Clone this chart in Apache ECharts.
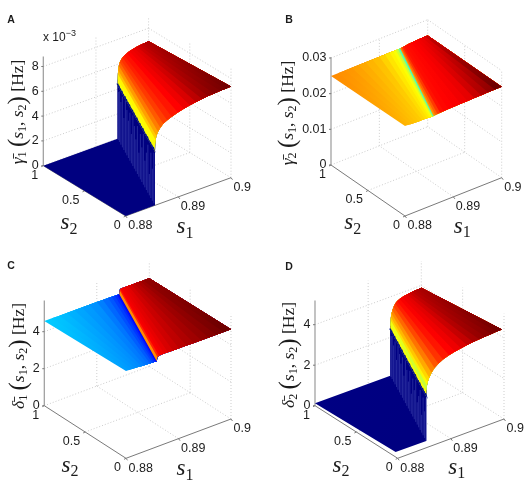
<!DOCTYPE html>
<html><head><meta charset="utf-8">
<style>html,body{margin:0;background:#fff}#c{width:529px;height:480px;filter:blur(0.4px)}</style>
<script src="https://cdn.jsdelivr.net/npm/echarts@6/dist/echarts.min.js"></script>
</head><body><div id="c"></div>
<script>
// axis ticks
const s1Ticks = [0.88, 0.89, 0.9];
const s1TickLabels = ['0.88', '0.89', '0.9'];
const s2Ticks = [0, 0.5, 1];
const s2TickLabels = ['0', '0.5', '1'];
const zTicksA = [0, 2, 4, 6, 8];
const zTicksB = [0, 0.01, 0.02, 0.03];
const zTicksC = [0, 2, 4];
const zTicksD = [0, 2, 4];

// Each surface is a list of strips. Strip boundary i runs from s2 low end to s2 = 1.
// Panel A
const s1AtLowA = [0.88,0.88556,0.88556,0.88562,0.8857,0.88584,0.88614,0.88658,0.88714,0.88788,0.88874,0.8899,0.89104,0.8922,0.89336,0.89452,0.89566,0.89682,0.89798,0.89898,0.9];
const s1AtOneA = [0.88,0.8941,0.8941,0.89412,0.89416,0.89422,0.89434,0.89452,0.89474,0.89504,0.8954,0.89588,0.89634,0.89682,0.89728,0.89776,0.89824,0.8987,0.89918,0.89958,0.9];
const zAtLowA = [0,0,4.3,4.9,5.25,5.55,5.85,6.1,6.33,6.5,6.65,6.82,6.95,7.05,7.13,7.2,7.25,7.29,7.32,7.34,7.36];
const zAtOneA = [0,0,4.3,4.8,5.2,5.5,5.85,6.1,6.25,6.4,6.5,6.62,6.7,6.75,6.8,6.84,6.87,6.9,6.92,6.94,6.95];
// Panel D
const s1AtLowD = [0.88,0.88576,0.88576,0.88582,0.8859,0.88604,0.88632,0.88676,0.88732,0.88804,0.8889,0.89004,0.89118,0.89232,0.89344,0.89458,0.89572,0.89686,0.898,0.899,0.9];
const s1AtOneD = [0.88,0.89416,0.89416,0.89418,0.89422,0.89428,0.8944,0.89456,0.8948,0.8951,0.89544,0.89592,0.89638,0.89684,0.89732,0.89778,0.89824,0.89872,0.89918,0.8996,0.9];
const zAtLowD = [0.25,0.23,2.42,2.7,2.95,3.12,3.3,3.5,3.68,3.83,3.95,4.05,4.13,4.18,4.22,4.26,4.29,4.31,4.33,4.35,4.36];
const zAtOneD = [0.115,0.11,2.35,2.6,2.85,3.0,3.15,3.3,3.45,3.58,3.66,3.72,3.76,3.79,3.81,3.83,3.85,3.86,3.87,3.875,3.88];
// Panels B and C share the strip layout
const s1AtLowFlat = [0.88,0.88059,0.88117,0.88176,0.88234,0.88293,0.88352,0.8841,0.88457,0.88498,0.88527,0.88551,0.88568,0.8858,0.88586,0.886,0.88628,0.88671,0.88727,0.88798,0.88897,0.8901,0.89152,0.89293,0.89434,0.89576,0.89717,0.89859,0.9];
const s1AtOneFlat = [0.88,0.88143,0.88286,0.88428,0.88571,0.88714,0.88857,0.89,0.89114,0.89214,0.89285,0.89342,0.89385,0.89414,0.89428,0.89434,0.89445,0.89462,0.89485,0.89514,0.89554,0.896,0.89657,0.89714,0.89771,0.89828,0.89886,0.89943,0.9];
const zAtLowB = [0.0252,0.02516,0.02512,0.02508,0.02505,0.02502,0.02499,0.02496,0.02493,0.02491,0.02489,0.02488,0.02487,0.02486,0.02486,0.0249,0.02495,0.025,0.02505,0.0251,0.02515,0.0252,0.02525,0.0253,0.02535,0.0254,0.02545,0.02548,0.0255];
const zAtOneB = [0.02495,0.02496,0.02496,0.02497,0.02497,0.02498,0.02498,0.02499,0.02499,0.02499,0.025,0.025,0.025,0.025,0.025,0.02503,0.02506,0.0251,0.02514,0.02518,0.02524,0.0253,0.02535,0.0254,0.02545,0.0255,0.02553,0.02556,0.0256];
const colorAtLowB = [0.7,0.695,0.69,0.685,0.68,0.675,0.665,0.655,0.645,0.635,0.62,0.58,0.5,0.38,0.7,0.74,0.78,0.82,0.86,0.87,0.875,0.88,0.89,0.9,0.91,0.92,0.93,0.945,0.945];
const colorAtOneB = [0.74,0.735,0.73,0.72,0.71,0.7,0.69,0.67,0.65,0.635,0.62,0.58,0.5,0.38,0.7,0.74,0.78,0.82,0.85,0.86,0.865,0.87,0.875,0.88,0.885,0.89,0.9,0.91,0.92];
const zAtLowC = [4.72,4.71,4.7,4.69,4.68,4.67,4.66,4.65,4.645,4.64,4.635,4.63,4.625,4.62,4.62,4.82,4.88,4.89,4.89,4.885,4.88,4.875,4.87,4.865,4.86,4.86,4.855,4.85,4.85];
const zAtOneC = [4.58,4.57,4.565,4.56,4.555,4.55,4.545,4.54,4.535,4.53,4.525,4.52,4.515,4.51,4.51,4.72,4.78,4.78,4.78,4.78,4.78,4.78,4.775,4.775,4.775,4.77,4.77,4.77,4.77];
const colorAtLowC = [0.28,0.275,0.27,0.265,0.26,0.25,0.24,0.23,0.21,0.19,0.17,0.15,0.13,0.1,0.74,0.84,0.88,0.89,0.9,0.905,0.91,0.915,0.92,0.925,0.93,0.935,0.94,0.945,0.945];
const colorAtOneC = [0.325,0.32,0.31,0.3,0.29,0.28,0.27,0.25,0.23,0.21,0.19,0.17,0.14,0.11,0.74,0.84,0.88,0.885,0.89,0.895,0.9,0.905,0.91,0.915,0.92,0.925,0.93,0.93,0.93];
// pale streaks and teeth seen on the steep walls (position along s2, top height as a share of wall)
const streakS2 = [0.03,0.07,0.11,0.15,0.19,0.23,0.27,0.31,0.35,0.39,0.43,0.47,0.51,0.55,0.59,0.63,0.67,0.71,0.75,0.79,0.83,0.87,0.91,0.95,0.98];
const streakTop = [0.95,0.6,0.85,0.4,0.9,0.7,0.5,0.95,0.65,0.85,0.45,0.9,0.6,0.8,0.95,0.55,0.9,0.7,0.85,0.98,0.6,0.95,0.8,0.95,0.9];

const panels = [
 {id:'A', letter:[11,20], L:[43.3,165.7], F:[125.7,216], R:[231,177.7], zs:12.4, zTop:8.8, zTicks:zTicksA, zLabels:zTicksA.map(String),
  s1Low:s1AtLowA, s1One:s1AtOneA, zLow:zAtLowA, zOne:zAtOneA, climLow:[0,7.79], climOne:[0,7.55], s2Low:0, wall:1, wallTopColor:0.62,
  s2Title:[69,223], s1Title:[185,227], yTitle:[18,112], sym:'γ̄', symSub:'1', multiplier:[43,38]},
 {id:'B', letter:[289,20], L:[331,165], F:[405,216], R:[501.7,177.7], zs:3567, zTop:0.0302, zTicks:zTicksB, zLabels:['0','0.01','0.02','0.03'],
  s1Low:s1AtLowFlat, s1One:s1AtOneFlat, zLow:zAtLowB, zOne:zAtOneB, cLow:colorAtLowB, cOne:colorAtOneB, s2Low:0,
  s2Title:[352.7,223], s1Title:[462.3,226.7], yTitle:[288,113], sym:'γ̄', symSub:'2'},
 {id:'C', letter:[11,266], L:[44.3,405.7], F:[126,458.3], R:[231,419], zs:18.5, zTop:5.68, zTicks:zTicksC, zLabels:['0','2','4'],
  s1Low:s1AtLowFlat, s1One:s1AtOneFlat, zLow:zAtLowC, zOne:zAtOneC, cLow:colorAtLowC, cOne:colorAtOneC, s2Low:0,
  s2Title:[70,465.7], s1Title:[185,469], yTitle:[19,356], sym:'δ̄', symSub:'1'},
 {id:'D', letter:[289,266.7], L:[315,405.7], F:[397.7,458.3], R:[504,419], zs:20.25, zTop:5.2, zTicks:zTicksD, zLabels:['0','2','4'],
  s1Low:s1AtLowD, s1One:s1AtOneD, zLow:zAtLowD, zOne:zAtOneD, climLow:[0.25,4.6], climOne:[0.1,4.2], s2Low:0.025, wall:1, wallTopColor:0.62,
  s2Title:[341,465.7], s1Title:[456.7,467.7], yTitle:[289,355], sym:'δ̄', symSub:'2'}
];

const clamp01 = v => Math.max(0, Math.min(1, v));
function jet(v){
  v = clamp01(v);
  const fade = v > 0.9 ? Math.max(0.3, 1 - (v - 0.9) * 9) : 1;
  const ch = c => Math.round(255 * clamp01(1.5 - Math.abs(4 * v - c)));
  return 'rgb(' + Math.round(ch(3) * fade) + ',' + ch(2) + ',' + ch(1) + ')';
}
panels.forEach(p => {
  p.back = [p.L[0] + p.R[0] - p.F[0], p.L[1] + p.R[1] - p.F[1]];
  p.top = p.back[1] - p.zTop * p.zs - 2;
  p.project = (api, s1, s2, z) => {
    const f = (s1 - 0.88) / 0.02;
    const x = p.F[0] + f * (p.R[0] - p.F[0]) + s2 * (p.L[0] - p.F[0]);
    const y = p.F[1] + f * (p.R[1] - p.F[1]) + s2 * (p.L[1] - p.F[1]) - z * p.zs;
    return api.coord([(x - p.L[0]) / (p.R[0] - p.L[0]), (p.F[1] - y) / (p.F[1] - p.top)]);
  };
});

const SANS = '"Liberation Sans", Arial, sans-serif';
const SERIF = '"Liberation Serif", "DejaVu Serif", serif';
const GRID = '#cdcdcd', AXIS = '#7a7a7a', INK = '#1c1c1c';

const line = (a, b, stroke, width, dash) => ({type:'line', shape:{x1:a[0], y1:a[1], x2:b[0], y2:b[1]},
  style:{stroke, lineWidth:width, lineDash:dash || null}, silent:true});
const label = (text, x, y, align, font) => ({type:'text', x, y, silent:true,
  style:{text, x:0, y:0, align, verticalAlign:'middle', fill:INK, font: font || ('12.5px ' + SANS)}});

const mathRich = size => ({
  i:{fontFamily:SERIF, fontStyle:'italic', fontSize:size, fill:INK, lineHeight:size+8},
  sub:{fontFamily:SERIF, fontSize:Math.round(size*0.7), fill:INK, padding:[Math.round(size*0.55),0,0,0], lineHeight:size+8},
  r:{fontFamily:SERIF, fontSize:size, fill:INK, lineHeight:size+8},
  big:{fontFamily:SERIF, fontSize:Math.round(size*1.45), fill:INK, lineHeight:size+8}
});

function furniture(p){
  return function(params, api){
    const P = (a, b, c) => p.project(api, a, b, c);
    const s1a = s1Ticks[0], s1b = s1Ticks[s1Ticks.length-1];
    const kids = [];
    const dash = [1, 2];
    s1Ticks.slice(1).forEach(t => kids.push(line(P(t,0,0), P(t,1,0), GRID, 1, dash)));
    s2Ticks.slice(1).forEach(t => kids.push(line(P(s1a,t,0), P(s1b,t,0), GRID, 1, dash)));
    s1Ticks.slice(1).forEach(t => kids.push(line(P(t,1,0), P(t,1,p.zTop), GRID, 1, dash)));
    s2Ticks.slice(0,2).forEach(t => kids.push(line(P(s1b,t,0), P(s1b,t,p.zTop), GRID, 1, dash)));
    p.zTicks.slice(1).forEach(z => {
      kids.push(line(P(s1a,1,z), P(s1b,1,z), GRID, 1, dash));
      kids.push(line(P(s1b,1,z), P(s1b,0,z), GRID, 1, dash));
    });
    kids.push(line(P(s1a,0,0), P(s1b,0,0), AXIS, 1));
    kids.push(line(P(s1a,0,0), P(s1a,1,0), AXIS, 1));
    kids.push(line(P(s1a,1,0), P(s1a,1,p.zTop), '#9a9a9a', 1.2));
    s1Ticks.forEach((t, i) => {
      const a = P(t,0,0);
      kids.push(line(a, [a[0]+1.5, a[1]+2], AXIS, 1));
      kids.push(label(s1TickLabels[i], a[0]+2.5, a[1]+10, 'left'));
    });
    s2Ticks.forEach((t, i) => {
      const a = P(s1a,t,0);
      kids.push(line(a, [a[0]-2, a[1]+1], AXIS, 1));
      kids.push(label(s2TickLabels[i], a[0]-5, a[1]+9.5, 'right'));
    });
    p.zTicks.forEach((z, i) => {
      const a = P(s1a,1,z);
      kids.push(line(a, [a[0]-2, a[1]], AXIS, 1));
      kids.push(label(p.zLabels[i], a[0]-4.5, a[1], 'right'));
    });
    const rich = mathRich(23);
    const title = (xy, n) => ({type:'text', x:xy[0], y:xy[1], silent:true,
      style:{text:'{i|s}{sub|' + n + '}', rich, align:'center', verticalAlign:'middle'}});
    kids.push(title(p.s2Title, '2'), title(p.s1Title, '1'));
    const ry = mathRich(17.5);
    kids.push({type:'text', x:p.yTitle[0], y:p.yTitle[1], rotation:Math.PI/2, silent:true,
      style:{text:'{i|' + p.sym + '}{sub|' + p.symSub + '}{r| }{big|(}{i|s}{sub|1}{r|, }{i|s}{sub|2}{big|)}{r| [Hz]}', rich:ry, align:'center', verticalAlign:'middle'}});
    kids.push(label(p.id, p.letter[0], p.letter[1], 'center', 'bold 10.5px ' + SANS));
    if (p.multiplier) {
      kids.push({type:'text', x:p.multiplier[0], y:p.multiplier[1], silent:true,
        style:{text:'{a|x 10}{b|−3}', align:'left', verticalAlign:'middle',
          rich:{a:{fontFamily:SANS, fontSize:12, fill:INK}, b:{fontFamily:SANS, fontSize:9, fill:INK, padding:[0,0,8,0]}}}});
    }
    return {type:'group', children:kids};
  };
}

function surface(p){
  const n = p.zLow.length;
  const val = (side, i) => {
    if (p.wall !== undefined && i === p.wall + 1) return p.wallTopColor;
    if (side === 0) return p.cLow ? p.cLow[i] : (p.zLow[i] - p.climLow[0]) / (p.climLow[1] - p.climLow[0]);
    return p.cOne ? p.cOne[i] : (p.zOne[i] - p.climOne[0]) / (p.climOne[1] - p.climOne[0]);
  };
  return function(params, api){
    const i = api.value(0);
    const low = k => p.project(api, p.s1Low[k], p.s2Low, p.zLow[k]);
    const one = k => p.project(api, p.s1One[k], 1, p.zOne[k]);
    const a = low(i), b = one(i), c = one(i+1), d = low(i+1);
    // each strip is painted from its boundary to the far edge, so the next one overlays it without a seam
    const pts = [];
    for (let k = i; k < n; k++) pts.push(low(k));
    for (let k = n - 1; k >= i; k--) pts.push(one(k));
    const grad = {type:'linear', x:a[0], y:a[1], x2:b[0], y2:b[1], global:true,
      colorStops:[{offset:0,color:jet(val(0,i))},{offset:1,color:jet(val(1,i))}]};
    const kids = [{type:'polygon', shape:{points:pts}, silent:true, style:{fill:grad}}];
    const w = s => (s - p.s2Low) / (1 - p.s2Low);
    if (p.wall !== undefined && i === p.wall) {
      streakS2.forEach((s, k) => {
        const t = w(s);
        const base = [a[0] + (b[0]-a[0])*t, a[1] + (b[1]-a[1])*t];
        const top  = [d[0] + (c[0]-d[0])*t, d[1] + (c[1]-d[1])*t];
        kids.push(line(base, [top[0], base[1] + (top[1]-base[1])*streakTop[k]], 'rgba(115,128,215,0.36)', 0.9));
      });
    }
    if (p.wall !== undefined && i === p.wall + 1) {
      streakS2.forEach((s, k) => {
        const t = w(s), h = 1.2 + 2.2 * streakTop[k];
        const base = [a[0] + (b[0]-a[0])*t, a[1] + (b[1]-a[1])*t];
        kids.push({type:'polygon', silent:true, shape:{points:[[base[0]-1.9, base[1]-3], [base[0]+1.9, base[1]+3], [base[0], base[1]-h]]},
          style:{fill:'#00108f'}});
      });
    }
    return {type:'group', children:kids};
  };
}

const grids = [], xAxes = [], yAxes = [], series = [];
panels.forEach((p, n) => {
  grids.push({left:p.L[0], width:p.R[0]-p.L[0], top:p.top, height:p.F[1]-p.top, containLabel:false});
  xAxes.push({type:'value', gridIndex:n, min:0, max:1, show:false});
  yAxes.push({type:'value', gridIndex:n, min:0, max:1, show:false});
  series.push({type:'custom', name:p.id + ' axes', coordinateSystem:'cartesian2d', xAxisIndex:n, yAxisIndex:n,
    data:[[0,0]], renderItem:furniture(p), clip:false, silent:true, animation:false, z:1});
  series.push({type:'custom', name:p.id + ' surface', coordinateSystem:'cartesian2d', xAxisIndex:n, yAxisIndex:n,
    data:p.zLow.slice(0,-1).map((_, i) => [i,0]), renderItem:surface(p), clip:false, silent:true, animation:false, z:2});
});

const chart = echarts.init(document.getElementById('c'), null, {renderer:'canvas'});
chart.setOption({animation:false, backgroundColor:'#fff', grid:grids, xAxis:xAxes, yAxis:yAxes, series});
</script></body></html>
